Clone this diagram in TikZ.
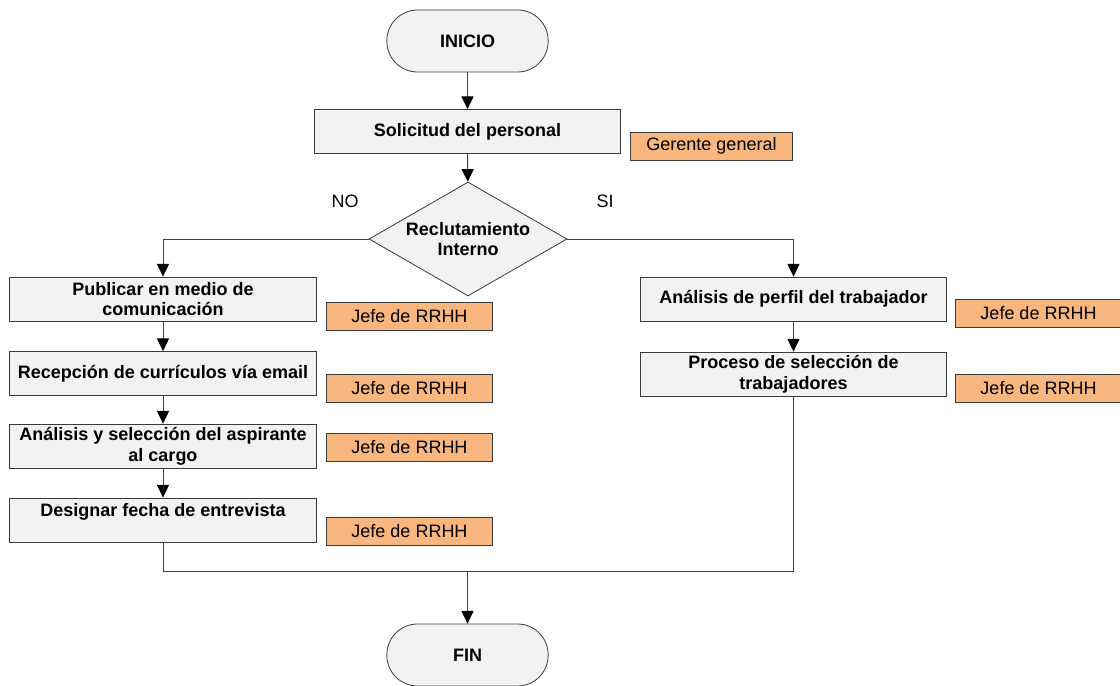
\documentclass[tikz,border=0pt]{standalone}
\usepackage{fontspec}
\setmainfont{Liberation Sans}
\usetikzlibrary{shapes.geometric, positioning, arrows.meta}
\definecolor{grisbloque}{HTML}{F2F2F2}
\definecolor{naranja}{HTML}{F9B77F}
\definecolor{borde}{HTML}{3A3A3A}

\begin{document}
\begin{tikzpicture}[
            x=0.75pt, y=-0.75pt,
            every node/.style={font=\fontsize{13.5}{15.5}\selectfont},
            % Estilos de los bloques
            terminal/.style={rectangle, rounded corners=23pt, minimum width=121pt, minimum height=46.5pt, text centered, draw=borde, line width=0.6pt, fill=grisbloque, font=\fontsize{13.5}{15.5}\selectfont\bfseries},
            proceso/.style={rectangle, minimum width=230pt, minimum height=33pt, inner sep=2pt, align=center, draw=borde, line width=0.6pt, fill=grisbloque, font=\fontsize{13.5}{15.5}\selectfont\bfseries},
            decision/.style={diamond, aspect=1.74, minimum width=148.5pt, minimum height=85.5pt, inner sep=0pt, align=center, draw=borde, line width=0.6pt, fill=grisbloque, font=\fontsize{13.5}{15.5}\selectfont\bfseries},
            responsable/.style={rectangle, minimum width=124pt, minimum height=21pt, inner sep=1pt, text centered, draw=borde, line width=0.6pt, fill=naranja},
            flecha/.style={draw=black!75, line width=0.75pt, -{Triangle[length=9.5pt, width=9pt, color=black]}},
            linea/.style={draw=black!75, line width=0.75pt}
        ]

            \useasboundingbox (0,0) rectangle (1120,685);

            % Nodos del flujo principal
            \node (inicio) [terminal] at (467.5,41) {INICIO};
            \node (solicitud) [proceso] at (467.5,131.5) {Solicitud del personal};
            \node (recl) [decision] at (468,239) {Reclutamiento\\Interno};

            % Rama NO (reclutamiento externo)
            \node (publicar) [proceso] at (163,299) {Publicar en medio de\\comunicación};
            \node (recepcion) [proceso] at (163,373.5) {Recepción de currículos vía email};
            \node (seleccion) [proceso] at (163,446) {Análisis y selección del aspirante\\al cargo};
            \node (entrevista) [proceso] at (163,520) {Designar fecha de entrevista\\~};

            % Rama SI (reclutamiento interno)
            \node (perfil) [proceso] at (793.5,299) {Análisis de perfil del trabajador};
            \node (procsel) [proceso] at (793.5,374) {Proceso de selección de\\trabajadores};

            \node (fin) [terminal] at (467.5,655) {FIN};

            % Responsables de cada actividad
            \node (r0) [responsable, minimum width=121pt] at (711.5,146) {Gerente general};
            \node (r1) [responsable] at (409.5,316) {Jefe de RRHH};
            \node (r2) [responsable] at (409.5,388) {Jefe de RRHH};
            \node (r3) [responsable] at (409.5,447) {Jefe de RRHH};
            \node (r4) [responsable] at (409.5,531) {Jefe de RRHH};
            \node (r5) [responsable] at (1038.5,313) {Jefe de RRHH};
            \node (r6) [responsable] at (1038.5,388) {Jefe de RRHH};

            % Etiquetas de la decisión
            \node (no) at (345,201) {NO};
            \node (si) at (605,201) {SI};

            \coordinate (union) at (467.5,571);

            % Conexiones (Flechas)
            \draw [flecha] (inicio) -- (solicitud);
            \draw [flecha] (solicitud) -- (recl);

            \draw [flecha] (recl.west) -| (publicar.north);
            \draw [flecha] (publicar) -- (recepcion);
            \draw [flecha] (recepcion) -- (seleccion);
            \draw [flecha] (seleccion) -- (entrevista);

            \draw [flecha] (recl.east) -| (perfil.north);
            \draw [flecha] (perfil) -- (procsel);

            % Ambas ramas se juntan antes del fin
            \draw [linea] (entrevista.south) |- (union);
            \draw [flecha] (procsel.south) |- (union) -- (fin.north);

        \end{tikzpicture}
\end{document}
